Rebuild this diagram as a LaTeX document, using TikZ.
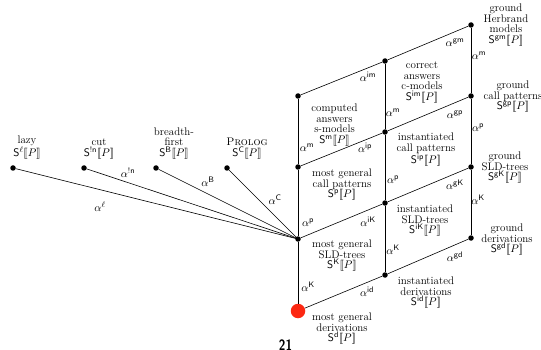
\documentclass[tikz,border=0pt]{standalone}
\definecolor{hot}{RGB}{252,40,18}
\newcommand{\sem}[1]{[\![#1]\!]}
\newcommand{\Sx}[1]{$\mathsf{S}^{#1}\sem{P}$}
\newcommand{\ax}[1]{$\alpha^{#1}$}
\begin{document}
\begin{tikzpicture}[x=1pt,y=-1pt,
  dot/.style={circle,fill=black,inner sep=0pt,minimum size=5.5pt},
  hotdot/.style={circle,fill=hot,inner sep=0pt,minimum size=14.5pt},
  txt/.style={align=center,inner sep=0pt,font=\fontsize{11}{10.5}\selectfont},
  lbl/.style={inner sep=0pt,font=\fontsize{11}{11}\selectfont},
  edge/.style={line width=0.6pt,black}]
\useasboundingbox (0,0) rectangle (541,350);
% grid points
\node[hotdot] (d) at (298,311) {};
\node[dot] (K) at (298,239) {};
\node[dot] (p) at (298,167) {};
\node[dot] (m) at (298,96) {};
\node[dot] (id) at (385,275) {};
\node[dot] (iK) at (385,203) {};
\node[dot] (ip) at (385,132) {};
\node[dot] (im) at (385,61) {};
\node[dot] (gd) at (471,238) {};
\node[dot] (gK) at (471,167) {};
\node[dot] (gp) at (471,96) {};
\node[dot] (gm) at (471,25) {};
% left points
\node[dot] (lz) at (13,168) {};
\node[dot] (ct) at (84,168) {};
\node[dot] (bf) at (156,168) {};
\node[dot] (pl) at (227,168) {};
% connectors
\draw[edge] (d) -- (K) -- (p) -- (m);
\draw[edge] (id) -- (iK) -- (ip) -- (im);
\draw[edge] (gd) -- (gK) -- (gp) -- (gm);
\draw[edge] (d) -- (id) -- (gd);
\draw[edge] (K) -- (iK) -- (gK);
\draw[edge] (p) -- (ip) -- (gp);
\draw[edge] (m) -- (im) -- (gm);
\draw[edge] (lz) -- (K.center);
\draw[edge] (ct) -- (K.center);
\draw[edge] (bf) -- (K.center);
\draw[edge] (pl) -- (K.center);
% left labels
\node[txt,anchor=south] (tlz) at (27,159) {lazy\\\Sx{\ell}};
\node[txt,anchor=south] (tct) at (99,159) {cut\\\Sx{\mathsf{!n}}};
\node[txt,anchor=south] (tbf) at (174,159) {breadth-\\first\\\Sx{\mathsf{B}}};
\node[txt,anchor=south] (tpl) at (247,159) {\textsc{Prolog}\\\Sx{\mathsf{C}}};
% grid labels
\node[txt,anchor=north] (tm) at (334.5,104) {computed\\answers\\s-models\\\Sx{\mathsf{m}}};
\node[txt,anchor=north] (tp) at (342,169) {most general\\call patterns\\\Sx{\mathsf{p}}};
\node[txt,anchor=north] (tK) at (342,240) {most general\\SLD-trees\\\Sx{\mathsf{K}}};
\node[txt,anchor=north] (td) at (342,313) {most general\\derivations\\\Sx{\mathsf{d}}};
\node[txt,anchor=north] (tim) at (422,62) {correct\\answers\\c-models\\\Sx{\mathsf{im}}};
\node[txt,anchor=north] (tip) at (426,133) {instantiated\\call patterns\\\Sx{\mathsf{ip}}};
\node[txt,anchor=north] (tiK) at (425,205) {instantiated\\SLD-trees\\\Sx{\mathsf{iK}}};
\node[txt,anchor=north] (tid) at (426,277) {instantiated\\derivations\\\Sx{\mathsf{id}}};
\node[txt,anchor=north] (tgm) at (506,4) {ground\\Herbrand\\models\\\Sx{\mathsf{gm}}};
\node[txt,anchor=north] (tgp) at (513,81) {ground\\call patterns\\\Sx{\mathsf{gp}}};
\node[txt,anchor=north] (tgK) at (505,152) {ground\\SLD-trees\\\Sx{\mathsf{gK}}};
\node[txt,anchor=north] (tgd) at (507,224) {ground\\derivations\\\Sx{\mathsf{gd}}};
% edge labels
\node[lbl] (al) at (100,207) {\ax{\ell}};
\node[lbl] (an) at (128,173) {\ax{\mathsf{!n}}};
\node[lbl] (aB) at (208,182) {\ax{\mathsf{B}}};
\node[lbl] (aC) at (275,200) {\ax{\mathsf{C}}};
\node[lbl] (a1m) at (307,148) {\ax{\mathsf{m}}};
\node[lbl] (a1p) at (308,223) {\ax{\mathsf{p}}};
\node[lbl] (a1K) at (308,287) {\ax{\mathsf{K}}};
\node[lbl] (aim) at (368,77) {\ax{\mathsf{im}}};
\node[lbl] (aip) at (365,148) {\ax{\mathsf{ip}}};
\node[lbl] (aiK) at (368,222) {\ax{\mathsf{iK}}};
\node[lbl] (aid) at (367,292) {\ax{\mathsf{id}}};
\node[lbl] (a2m) at (393,113) {\ax{\mathsf{m}}};
\node[lbl] (a2p) at (393,180) {\ax{\mathsf{p}}};
\node[lbl] (a2K) at (393,250) {\ax{\mathsf{K}}};
\node[lbl] (agm) at (455,43) {\ax{\mathsf{gm}}};
\node[lbl] (agp) at (455,115) {\ax{\mathsf{gp}}};
\node[lbl] (agK) at (455,185) {\ax{\mathsf{gK}}};
\node[lbl] (agd) at (455,257) {\ax{\mathsf{gd}}};
\node[lbl] (a3m) at (479,56) {\ax{\mathsf{m}}};
\node[lbl] (a3p) at (478,128) {\ax{\mathsf{p}}};
\node[lbl] (a3K) at (478,200) {\ax{\mathsf{K}}};
% page number
\node[inner sep=0pt,anchor=north] (pg) at (285.5,340) {\scalebox{0.8}[1]{\fontsize{15}{15}\sffamily\bfseries 21}};
\end{tikzpicture}
\end{document}
